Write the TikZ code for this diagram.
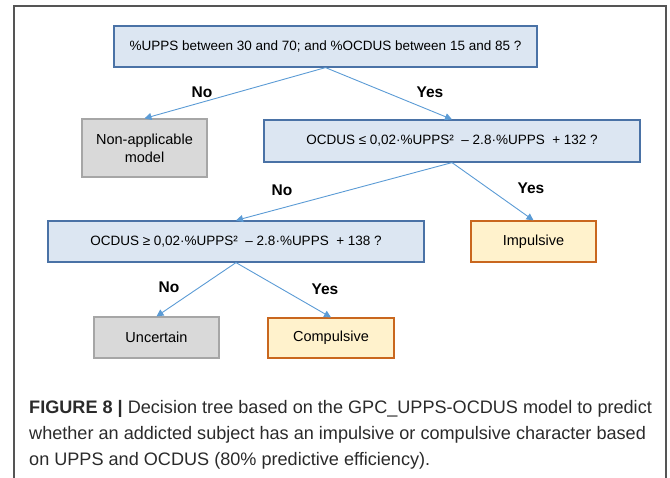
\documentclass[tikz,border=0pt]{standalone}
\usepackage{fontspec}
\setmainfont{Liberation Sans}
\usetikzlibrary{arrows.meta}
\definecolor{condfill}{HTML}{DCE6F2}
\definecolor{conddraw}{HTML}{4A72A6}
\definecolor{greyfill}{HTML}{D9D9D9}
\definecolor{greydraw}{HTML}{A6A6A6}
\definecolor{orangefill}{HTML}{FFF2CC}
\definecolor{orangedraw}{HTML}{C9671E}
\definecolor{arrowblue}{HTML}{5B9BD5}
\definecolor{framegrey}{HTML}{555555}
\definecolor{captext}{HTML}{2A2A2A}
\tikzset{
  box/.style={inner sep=0pt, line width=1.2pt, align=center, font=\fontsize{13.5}{16}\selectfont},
  condbox/.style={box, fill=condfill, draw=conddraw},
  greybox/.style={box, fill=greyfill, draw=greydraw, font=\fontsize{14.5}{18}\selectfont},
  leafbox/.style={box, fill=orangefill, draw=orangedraw, font=\fontsize{14.5}{18}\selectfont},
  branch/.style={draw=arrowblue, line width=0.9pt, -{Triangle[length=7pt,width=7pt]}},
  answer/.style={font=\bfseries\fontsize{15.5}{18}\selectfont},
  capline/.style={anchor=base west, inner sep=0pt, text=captext, font=\fontsize{18.1}{22}\selectfont}
}
\begin{document}
\begin{tikzpicture}[x=1pt, y=-1pt]
\useasboundingbox (0,0) rectangle (670,478);
% open frame around the figure
\draw[framegrey, line width=1.2pt] (14,480) -- (14,6) -- (666,6) -- (666,480);

% decision nodes
\node[condbox, minimum width=423pt, minimum height=41pt] (q1) at (325.5,46.5)
  {\%UPPS between 30 and 70; and \%OCDUS between 15 and 85 ?};
\node[greybox, minimum width=125pt, minimum height=58pt] (na) at (144.5,148)
  {Non-applicable\\model};
\node[condbox, minimum width=376pt, minimum height=42pt] (q2) at (452,141)
  {OCDUS ≤ 0,02·\%UPPS²\ \ – 2.8·\%UPPS\ \ + 132 ?};
\node[condbox, minimum width=376pt, minimum height=41pt] (q3) at (236,241.5)
  {OCDUS ≥ 0,02·\%UPPS²\ \ – 2.8·\%UPPS\ \ + 138 ?};
\node[leafbox, minimum width=125pt, minimum height=41pt] (imp) at (533.5,241.5) {Impulsive};
\node[greybox, minimum width=125pt, minimum height=41pt] (unc) at (156.5,337.5) {Uncertain};
\node[leafbox, minimum width=126pt, minimum height=40pt] (comp) at (331,338) {Compulsive};

% branches
\draw[branch] (q1.south) -- (na.north);
\draw[branch] (q1.south) -- (q2.north);
\draw[branch] (q2.south) -- (q3.north);
\draw[branch] (q2.south) -- (imp.north);
\draw[branch] (q3.south) -- (unc.north);
\draw[branch] (q3.south) -- (comp.north);

% branch labels
\node[answer] (n1) at (202,92) {No};
\node[answer] (y1) at (430,92) {Yes};
\node[answer] (n2) at (282,190) {No};
\node[answer] (y2) at (531,188) {Yes};
\node[answer] (n3) at (169,287) {No};
\node[answer] (y3) at (325,289) {Yes};

% caption
\node[capline] (c1) at (29,414) {\textbf{FIGURE 8 |} Decision tree based on the GPC\_UPPS-OCDUS model to predict};
\node[capline] (c2) at (29,440) {whether an addicted subject has an impulsive or compulsive character based};
\node[capline] (c3) at (29,466) {on UPPS and OCDUS (80\% predictive efficiency).};
\end{tikzpicture}
\end{document}
